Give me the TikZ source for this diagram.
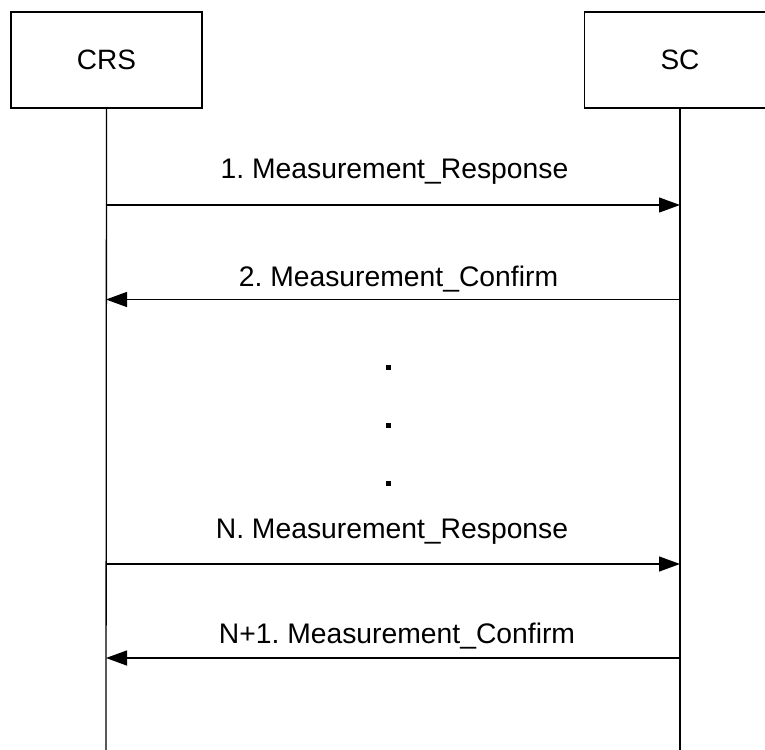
\documentclass[tikz,border=0pt]{standalone}
\usepackage{fontspec}
\setmainfont{Liberation Sans}
\usetikzlibrary{arrows.meta}
\begin{document}
\frenchspacing
\begin{tikzpicture}[x=1pt,y=-1pt,
  ent/.style={draw,line width=1.3pt,minimum width=191pt,minimum height=96pt,inner sep=0pt,font=\fontsize{28}{32}\selectfont},
  lbl/.style={font=\fontsize{28.3}{32}\selectfont,inner sep=0pt,anchor=base},
  msg/.style={line width=1.3pt,-{Triangle[length=21pt,width=15pt]}},
  life/.style={line width=1.3pt},
  dotsq/.style={fill=black,minimum size=5pt,inner sep=0pt}]
\useasboundingbox (0,0) rectangle (765,749);
\begin{scope}
\clip (0,0) rectangle (765,749);
\node[ent] (crs) at (106.5,60) {CRS};
\node[ent] (sc) at (680,60) {SC};
\coordinate (crsend) at (106,752);
\coordinate (scend) at (680,752);
\draw[life] (crs.south) -- (crsend);
\draw[life] (sc.south) -- (scend);
\coordinate (a1) at (106,205); \coordinate (b1) at (680,205);
\coordinate (a2) at (106,299.5); \coordinate (b2) at (680,299.5);
\coordinate (a3) at (106,564); \coordinate (b3) at (680,564);
\coordinate (a4) at (106,658); \coordinate (b4) at (680,658);
\draw[msg] (a1) -- (b1);
\draw[msg] (b2) -- (a2);
\draw[msg] (a3) -- (b3);
\draw[msg] (b4) -- (a4);
\node[lbl] (l1) at (394.5,178) {1. Measurement\_Response};
\node[lbl] (l2) at (398.5,286) {2. Measurement\_Confirm};
\node[lbl] (l3) at (392,538) {N. Measurement\_Response};
\node[lbl] (l4) at (397,643) {N+1. Measurement\_Confirm};
\node[dotsq] (d1) at (388.5,367.5) {};
\node[dotsq] (d2) at (388.5,425.5) {};
\node[dotsq] (d3) at (388.5,483.5) {};
\end{scope}
\end{tikzpicture}
\end{document}
